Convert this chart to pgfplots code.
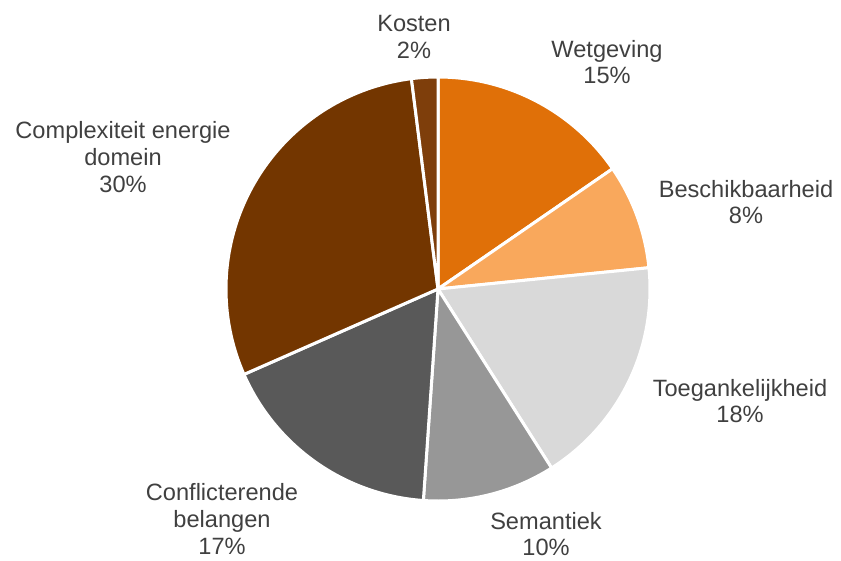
\documentclass[border=0pt]{standalone}
\usepackage{pgfplots}
\usepackage{pgfplotstable}
\pgfplotsset{compat=1.18}
\usepackage{fontspec}
\setmainfont{Liberation Sans}

% slices clockwise from 12 o'clock; lx/ly = label centre (pixels, y down)
\pgfplotstableread[col sep=comma]{
name,value,lx,ly
Wetgeving,15.4,607,62
Beschikbaarheid,8.0,746,202
Toegankelijkheid,17.6,740,401
Semantiek,10.1,546,534
Conflicterende\\belangen,17.3,222,519
Complexiteit energie\\domein,29.6,123,157
Kosten,2.0,414,37
}\piedata

\definecolor{slice0}{HTML}{E07008}
\definecolor{slice1}{HTML}{F9A85C}
\definecolor{slice2}{HTML}{D9D9D9}
\definecolor{slice3}{HTML}{979797}
\definecolor{slice4}{HTML}{595959}
\definecolor{slice5}{HTML}{733600}
\definecolor{slice6}{HTML}{7E3E0B}
\definecolor{labeltext}{HTML}{404040}

% cumulative angles (degrees, clockwise from top)
\gdef\cum{0}
\foreach \i in {0,...,6}{
  \pgfplotstablegetelem{\i}{value}\of\piedata
  \pgfmathsetmacro\a{\cum}
  \pgfmathsetmacro\b{\cum+3.6*\pgfplotsretval}
  \expandafter\xdef\csname a\i\endcsname{\a}
  \expandafter\xdef\csname b\i\endcsname{\b}
  \xdef\cum{\b}
}

\begin{document}
\begin{tikzpicture}
\begin{axis}[
  scale only axis, width=841pt, height=560pt,
  xmin=0, xmax=841, ymin=0, ymax=560, y dir=reverse,
  hide axis, clip=false,
]
\path (axis cs:0,0) rectangle (axis cs:841,560);
\pgfplotsinvokeforeach{0,...,6}{
  \addplot[fill=slice#1, draw=white, line width=3pt, line join=round,
    domain=\csname a#1\endcsname:\csname b#1\endcsname, samples=80, variable=\t]
    ({438+212*sin(\t)}, {289-212*cos(\t)}) -- (axis cs:438,289) -- cycle;
}
\pgfplotsinvokeforeach{0,...,6}{
  \pgfplotstablegetelem{#1}{name}\of\piedata
  \let\lname\pgfplotsretval
  \pgfplotstablegetelem{#1}{value}\of\piedata
  \pgfmathsetmacro\lval{round(\pgfplotsretval)}
  \pgfmathtruncatemacro\lval{\lval}
  \pgfplotstablegetelem{#1}{lx}\of\piedata
  \let\lx\pgfplotsretval
  \pgfplotstablegetelem{#1}{ly}\of\piedata
  \let\ly\pgfplotsretval
  \edef\temp{\noexpand\node[align=center, text=labeltext,
      font=\noexpand\fontsize{23.6}{26.6}\noexpand\selectfont, inner sep=0pt]
      at (axis cs:\lx,\ly) {\unexpanded\expandafter{\lname}\noexpand\\\lval\noexpand\%};}
  \temp
}
\end{axis}
\end{tikzpicture}
\end{document}
